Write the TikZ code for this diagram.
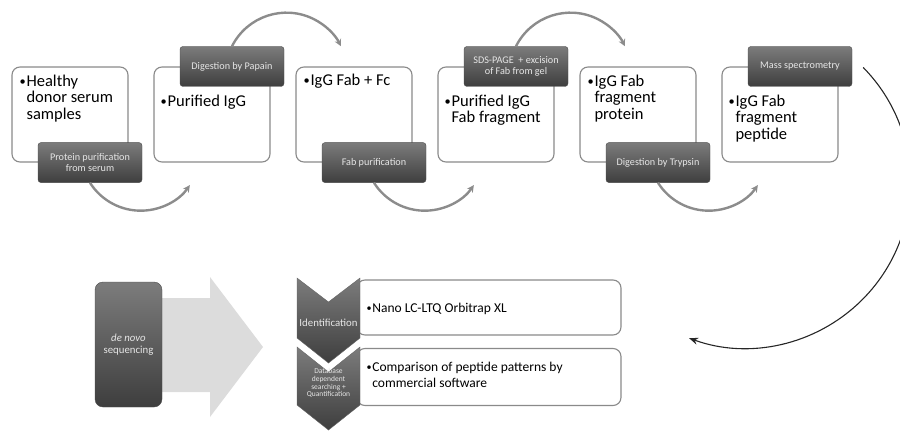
\documentclass[tikz,border=0pt]{standalone}
\usepackage{fontspec}
\usepackage{graphicx}
\setmainfont{Carlito}
\usetikzlibrary{arrows.meta}
\definecolor{flowgray}{HTML}{8C8C8C}
\definecolor{tagtop}{HTML}{7C7C7C}
\definecolor{tagbottom}{HTML}{3E3E3E}
\definecolor{tagtext}{HTML}{E6E6E6}
\definecolor{boxline}{HTML}{8A8A8A}
\definecolor{bigarrow}{HTML}{DCDCDC}

\newcommand{\bulitem}[1]{\makebox[0.42em][l]{\raisebox{0.08em}{\scalebox{0.75}{•}}}\parbox[t]{260pt}{\raggedright #1}}

\begin{document}
\begin{tikzpicture}[x=1pt, y=-1pt,
        stepbox/.style={draw=boxline, line width=1.1pt, rounded corners=8pt, fill=white,
            minimum width=116pt, minimum height=95pt, inner sep=0pt},
        steptext/.style={anchor=base west, inner sep=0pt, font=\fontsize{16.5}{16.5}\selectfont},
        tag/.style={draw=black!70, top color=tagtop, bottom color=tagbottom, rounded corners=3pt,
            minimum width=104pt, minimum height=40pt, inner sep=0pt, align=center,
            text=tagtext, font=\fontsize{10.2}{11.5}\selectfont},
        chev/.style={draw=black!60, top color=tagtop, bottom color=tagbottom},
        chevtext/.style={inner sep=0pt, align=center, text=tagtext, font=\fontsize{10.8}{12}\selectfont},
        resultbox/.style={draw=boxline, line width=1.1pt, rounded corners=8pt, fill=white,
            minimum width=264pt, inner sep=0pt},
        resulttext/.style={anchor=base west, inner sep=0pt, font=\fontsize{13.5}{16}\selectfont},
        flow/.style={draw=flowgray, line width=2.4pt, -{Stealth[length=7pt, width=7pt]}},
        flowdark/.style={draw=black!85, line width=1.1pt, -{Stealth[length=9pt, width=7pt]}}]
      \useasboundingbox (0,0) rectangle (900,434);
      \clip (0,0) rectangle (900,434);

      % Process boxes
      \node[stepbox] (serum) at (70,114.5) {};
      \node[stepbox] (igg) at (212,114.5) {};
      \node[stepbox] (fabfc) at (354,114.5) {};
      \node[stepbox] (fabfrag) at (496,114.5) {};
      \node[stepbox] (fabprot) at (638,114.5) {};
      \node[stepbox] (fabpep) at (780,114.5) {};

      \node[steptext] at ([shift={(8,20)}]serum.north west) {\bulitem{Healthy\\donor serum\\samples}};
      \node[steptext] at ([shift={(7,40)}]igg.north west) {\bulitem{Purified IgG}};
      \node[steptext] at ([shift={(8,19)}]fabfc.north west) {\bulitem{IgG Fab + Fc}};
      \node[steptext] at ([shift={(7,40)}]fabfrag.north west) {\bulitem{Purified IgG\\Fab fragment}};
      \node[steptext] at ([shift={(8,20)}]fabprot.north west) {\bulitem{IgG Fab\\fragment\\protein}};
      \node[steptext] at ([shift={(7,40)}]fabpep.north west) {\bulitem{IgG Fab\\fragment\\peptide}};

      % Step labels
      \node[tag] (purif) at ([xshift=20]serum.south) {Protein purification\\from serum};
      \node[tag] (papain) at ([xshift=20]igg.north) {Digestion by Papain};
      \node[tag] (fabpur) at ([xshift=20]fabfc.south) {Fab purification};
      \node[tag] (sds) at ([xshift=20]fabfrag.north) {SDS-PAGE~ + excision\\of Fab from gel};
      \node[tag] (trypsin) at ([xshift=20]fabprot.south) {Digestion by Trypsin};
      \node[tag] (massspec) at ([xshift=20]fabpep.north) {Mass spectrometry};

      % Arcs between steps
      \draw[flow] (purif.south) arc[start angle=147.7, end angle=35, radius=60];
      \draw[flow] (papain.north) arc[start angle=206.7, end angle=333.3, radius=61];
      \draw[flow] (fabpur.south) arc[start angle=147.7, end angle=35, radius=60];
      \draw[flow] (sds.north) arc[start angle=206.7, end angle=333.3, radius=61];
      \draw[flow] (trypsin.south) arc[start angle=147.7, end angle=35, radius=60];
      \draw[flowdark] ([shift={(11,1)}]massspec.east) arc[start angle=-44.5, end angle=110, radius=165];

      % Analysis
      \fill[bigarrow] (150,298) -- (210,298) -- (210,277) -- (263,347) -- (210,417)
          -- (210,392) -- (150,392) -- cycle;
      \node[tag, minimum width=67pt, minimum height=125pt, rounded corners=8pt,
          font=\fontsize{10.8}{12}\selectfont] (denovo) at (128.5,344.5) {\textit{de novo}\\sequencing};

      \node[resultbox, minimum height=55pt] (nano) at (489,307.5) {};
      \node[resultbox, minimum height=57pt] (compare) at (489,377) {};
      \node[resulttext] at ([shift={(10,33)}]nano.north west) {\bulitem{Nano LC-LTQ Orbitrap XL}};
      \node[resulttext] at ([shift={(10,23.5)}]compare.north west)
          {\bulitem{Comparison of peptide patterns by\\commercial software}};

      \shade[chev] (297,278) -- (328.5,302) -- (360,278) -- (360,338) -- (328.5,363) -- (297,338) -- cycle;
      \shade[chev] (297,347) -- (328.5,372) -- (360,347) -- (360,405) -- (328.5,430) -- (297,405) -- cycle;
      \node[chevtext] (ident) at (328.5,323) {Identification};
      \node[chevtext, font=\fontsize{7.5}{7.8}\selectfont] (dbsearch) at (328.5,383)
          {Database\\dependent\\searching +\\Quantification};
    \end{tikzpicture}
\end{document}
